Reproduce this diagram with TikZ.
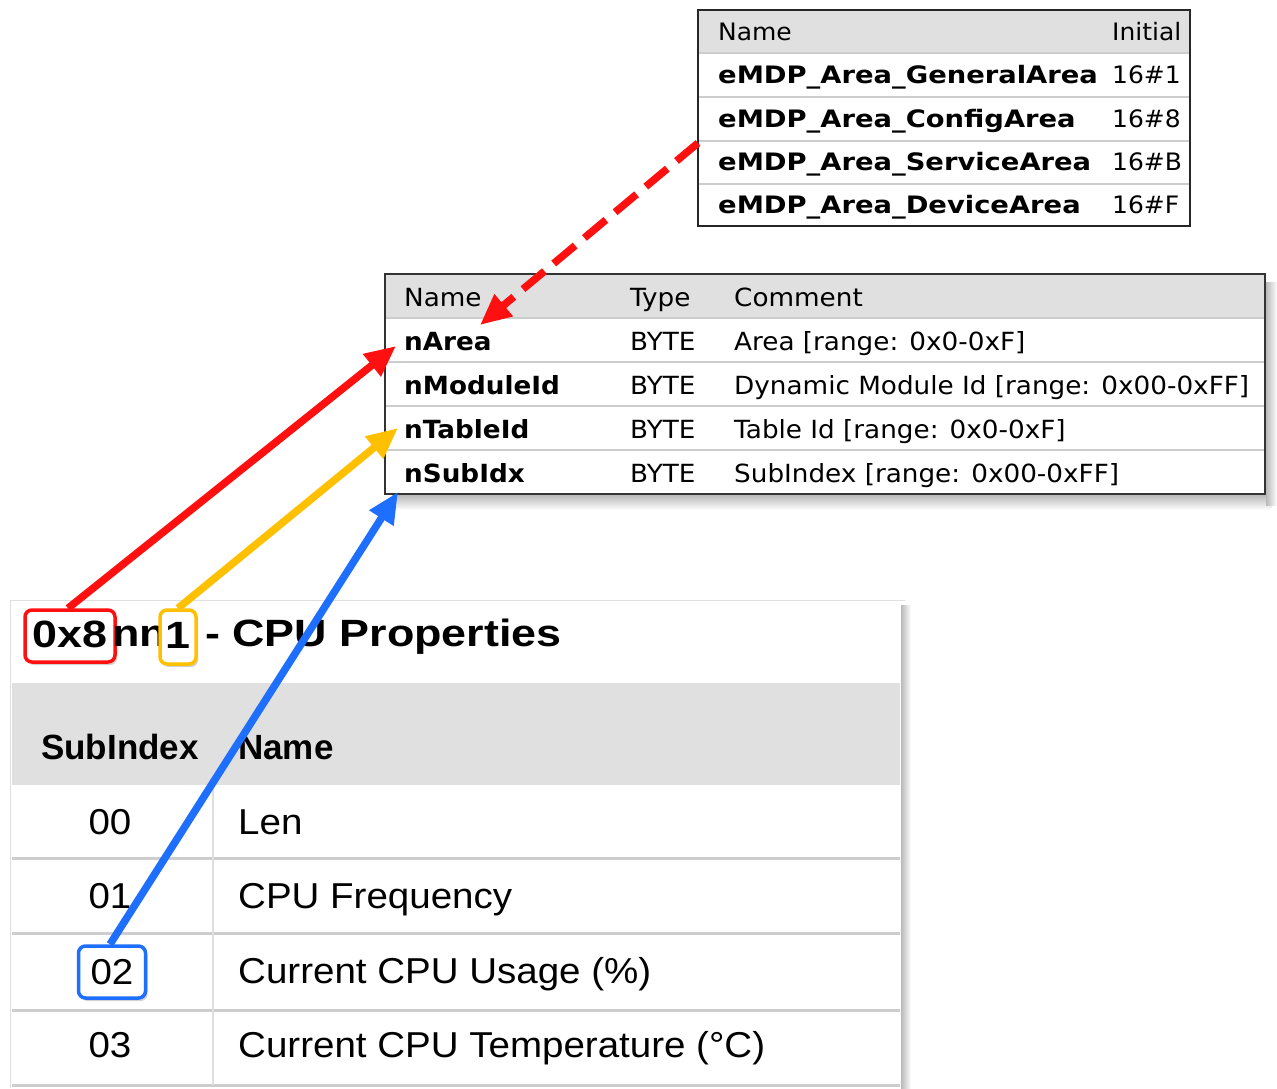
\documentclass[tikz,border=0pt]{standalone}
\usepackage{fontspec}
\setmainfont{Liberation Sans}
\newfontfamily\topfont[FakeStretch=1.14]{DejaVu Sans}
\newfontfamily\topfontr[FakeStretch=1.04]{DejaVu Sans}
\newfontfamily\midfont[FakeStretch=1.05]{DejaVu Sans}
\newfontfamily\ttlfont[FakeStretch=1.18]{Liberation Sans}
\newfontfamily\botfont[FakeStretch=1.07]{Liberation Sans}
\usetikzlibrary{arrows.meta,shadows,calc}
\definecolor{hdr}{HTML}{E0E0E0}
\definecolor{sepc}{HTML}{CDCDCD}
\definecolor{myred}{HTML}{FF1010}
\definecolor{myyel}{HTML}{FFC000}
\definecolor{myblue}{HTML}{1F6FFF}
\tikzset{
  ttxt/.style={anchor=west,inner sep=0pt,text height=22.5pt,text depth=5pt,font=\topfontr\fontsize{24}{27}\selectfont},
  ttxtb/.style={ttxt,font=\topfont\bfseries\fontsize{24}{27}\selectfont},
  mtxt/.style={anchor=west,inner sep=0pt,text height=23.2pt,text depth=5pt,font=\midfont\fontsize{25}{28}\selectfont},
  mtxtb/.style={mtxt,font=\midfont\bfseries\fontsize{25}{28}\selectfont},
  btxt/.style={inner sep=0pt,text height=31.8pt,text depth=6pt,font=\botfont\fontsize{36}{40}\selectfont},
  btxtb/.style={inner sep=0pt,text height=31pt,text depth=6pt,font=\bfseries\fontsize{35}{40}\selectfont},
  ttl/.style={inner sep=0pt,text height=33.2pt,text depth=6pt,font=\ttlfont\bfseries\fontsize{38}{42}\selectfont},
  hlbox/.style={draw,line width=3.5pt,rounded corners=7pt,inner sep=0pt,fill=white,
    drop shadow={shadow xshift=2pt,shadow yshift=-3pt,opacity=0.35}},
  conn/.style={line width=7.5pt,-{Triangle[length=31pt,width=27pt]}},
  sepline/.style={sepc,line width=2pt},
}
\begin{document}
\begin{tikzpicture}[x=1pt,y=-1pt]
\useasboundingbox (0,0) rectangle (1277,1088);
\fill[white] (0,0) rectangle (1277,1088);

% ---------- bottom panel ----------
\draw[gray!25,line width=1pt] (10,1088) -- (10,600) -- (905,600);
\shade[left color=gray!55,right color=white] (901,605) rectangle (911,1088);
\fill[hdr] (12,683) rectangle (900,785);
\foreach \yy in {858,933,1010,1085}{\draw[sepc,line width=3pt] (12,\yy) -- (900,\yy);}
\draw[gray!25,line width=2pt] (213,785) -- (213,1085);

\node[hlbox,draw=myred,minimum width=90pt,minimum height=52pt,ttl,text depth=11pt] (hlA) at (70,636) {0x8};
\node[ttl,anchor=west] (ttlnn) at (112,633) {nn};
\node[hlbox,draw=myyel,minimum width=36pt,minimum height=54pt,ttl,text depth=11pt] (hlT) at (178,637) {1};
\node[ttl,anchor=west] (ttlrest) at (205,633) {- CPU Properties};

\node[btxtb,anchor=west] (hsub) at (41,747) {SubIndex};
\node[btxtb,anchor=west] (hname) at (238,747) {Name};
\node[btxt] (n00) at (110,822) {00};
\node[btxt,anchor=west] (l00) at (238,822) {Len};
\node[btxt] (n01) at (110,896) {01};
\node[btxt,anchor=west] (l01) at (238,896) {CPU Frequency};
\node[hlbox,draw=myblue,minimum width=67pt,minimum height=52pt,btxt] (hlS) at (112,972) {02};
\node[btxt,anchor=west] (l02) at (238,971) {Current CPU Usage (\%)};
\node[btxt] (n03) at (110,1045) {03};
\node[btxt,anchor=west] (l03) at (238,1045) {Current CPU Temperature (°C)};

% ---------- top table ----------
\fill[hdr] (698,10) rectangle (1190,53);
\foreach \yy in {53,97,141,184}{\draw[sepline] (698,\yy) -- (1190,\yy);}
\draw[line width=2pt,black!85] (698,10) rectangle (1190,226);
\node[ttxt] (thName) at (718,32) {Name};
\node[ttxt] (thInit) at (1112,32) {Initial};
\node[ttxtb] (tGen) at (718,75) {eMDP\_Area\_GeneralArea};
\node[ttxt] (vGen) at (1112,75) {16\#1};
\node[ttxtb] (tCfg) at (718,119) {eMDP\_Area\_ConfigArea};
\node[ttxt] (vCfg) at (1112,119) {16\#8};
\node[ttxtb] (tSrv) at (718,162) {eMDP\_Area\_ServiceArea};
\node[ttxt] (vSrv) at (1112,162) {16\#B};
\node[ttxtb] (tDev) at (718,205) {eMDP\_Area\_DeviceArea};
\node[ttxt] (vDev) at (1112,205) {16\#F};
\coordinate (topleft) at (698,143);

% ---------- middle table ----------
\shade[top color=gray!55,bottom color=white] (392,495) rectangle (1272,510);
\shade[left color=gray!55,right color=white] (1266,282) rectangle (1277,505);
\fill[white] (385,274) rectangle (1265,494);
\fill[hdr] (385,274) rectangle (1265,318);
\foreach \yy in {318,362,406,450}{\draw[sepline] (385,\yy) -- (1265,\yy);}
\draw[line width=2pt,black!80] (385,274) rectangle (1265,494);
\node[mtxt] (mhName) at (404,297) {Name};
\node[mtxt] (mhType) at (630,297) {Type};
\node[mtxt] (mhCom) at (734,297) {Comment};
\node[mtxtb] (nArea) at (404,341) {nArea};
\node[mtxt] (tyA) at (630,341) {BYTE};
\node[mtxt] (cA) at (734,341) {Area [range: 0x0-0xF]};
\node[mtxtb] (nMod) at (404,385) {nModuleId};
\node[mtxt] (tyM) at (630,385) {BYTE};
\node[mtxt] (cM) at (734,385) {Dynamic Module Id [range: 0x00-0xFF]};
\node[mtxtb] (nTab) at (404,429) {nTableId};
\node[mtxt] (tyT) at (630,429) {BYTE};
\node[mtxt] (cT) at (734,429) {Table Id [range: 0x0-0xF]};
\node[mtxtb] (nSub) at (404,473) {nSubIdx};
\node[mtxt] (tyS) at (630,473) {BYTE};
\node[mtxt] (cS) at (734,473) {SubIndex [range: 0x00-0xFF]};

% ---------- connectors ----------
\draw[conn,myred] ($(hlA.north)+(-2,0)$) -- ($(nArea.west)+(-8,5)$);
\draw[conn,myyel] (hlT.north) -- ($(nTab.west)+(-6,-1)$);
\draw[conn,myblue] ($(hlS.north)+(-2,0)$) -- ($(nSub.west)+(-6,19)$);
\draw[conn,myred,dash pattern=on 28pt off 12pt] (topleft) -- ($(nArea.west)+(76,-16)$);
\end{tikzpicture}
\end{document}
